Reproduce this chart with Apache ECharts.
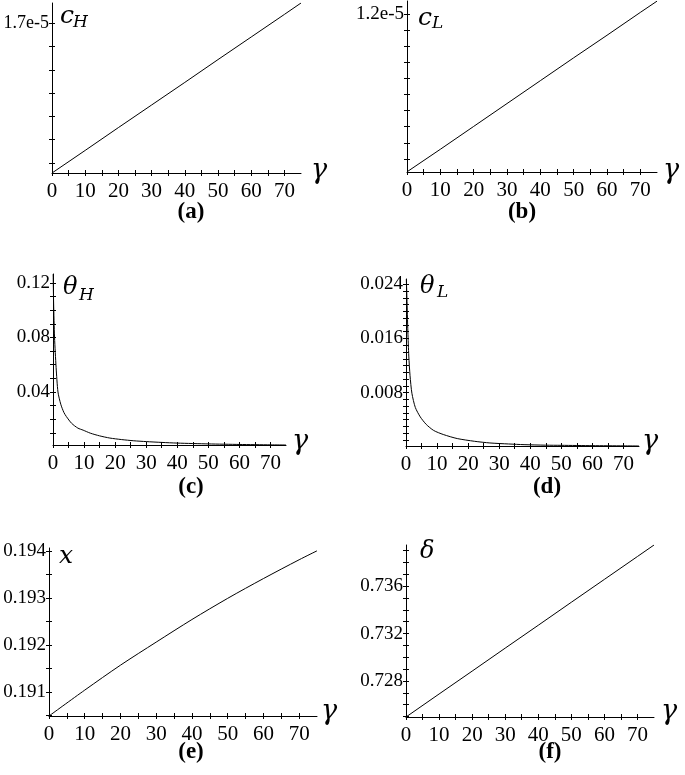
<!DOCTYPE html>
<html>
<head>
<meta charset="utf-8">
<script src="https://cdn.jsdelivr.net/npm/echarts@6/dist/echarts.min.js"></script>
<style>
  html, body { margin: 0; padding: 0; background: #fff; }
  #main { width: 685px; height: 775px; }
</style>
</head>
<body>
<div id="main"></div>
<script>
// values, gamma on the x axis
var gammaLin = [0, 10, 20, 30, 40, 50, 60, 70, 75];
var cH = [1.057e-5, 1.154e-5, 1.252e-5, 1.349e-5, 1.446e-5, 1.544e-5, 1.641e-5, 1.738e-5, 1.787e-5];
var cL = [0.710e-5, 0.780e-5, 0.851e-5, 0.922e-5, 0.993e-5, 1.064e-5, 1.134e-5, 1.205e-5, 1.240e-5];
var xVal = [0.19049, 0.19104, 0.19157, 0.19206, 0.19254, 0.19299, 0.19341, 0.19381, 0.19400];
var delta = [0.72496, 0.72690, 0.72883, 0.73077, 0.73270, 0.73464, 0.73657, 0.73850, 0.73947];

var gammaH = [0.05, 0.2, 0.5, 1, 1.6, 2.5, 3.5, 4.3, 6, 8, 9.7, 12, 15, 18.3, 22, 26, 30, 35, 40, 50, 60, 70, 75];
var thetaH = [0.1266, 0.105, 0.08, 0.058, 0.04, 0.031, 0.025, 0.022, 0.017, 0.0135, 0.012, 0.0098, 0.0078, 0.0062, 0.0051, 0.0042, 0.0036, 0.003, 0.0025, 0.0019, 0.0015, 0.0012, 0.0011];
var gammaL = [0.1, 0.3, 0.6, 0.9, 1.3, 1.9, 3, 4.6, 6.5, 8.9, 12, 16.5, 22, 27, 33, 38, 45, 50, 60, 70, 75];
var thetaL = [0.0248, 0.022, 0.017, 0.0134, 0.0105, 0.0079, 0.0058, 0.0044, 0.0033, 0.0024, 0.0018, 0.0012, 0.0008, 0.00055, 0.0004, 0.0003, 0.00022, 0.0002, 0.00015, 0.00012, 0.0001];

// tick positions and labels
var xTicks = [0, 5, 10, 15, 20, 25, 30, 35, 40, 45, 50, 55, 60, 65, 70];
var xLabels = [0, 10, 20, 30, 40, 50, 60, 70];
var yTicksA = [1.1e-5, 1.2e-5, 1.3e-5, 1.4e-5, 1.5e-5, 1.6e-5, 1.7e-5];
var yLabelsA = [1.7e-5];
var yTicksB = [0.75e-5, 0.8e-5, 0.85e-5, 0.9e-5, 0.95e-5, 1.0e-5, 1.05e-5, 1.1e-5, 1.15e-5, 1.2e-5];
var yLabelsB = [1.2e-5];
var yTicksC = [0.01, 0.02, 0.03, 0.04, 0.05, 0.06, 0.07, 0.08, 0.09, 0.10, 0.11, 0.12];
var yLabelsC = [0.04, 0.08, 0.12];
var yTicksD = [0.001, 0.002, 0.003, 0.004, 0.005, 0.006, 0.007, 0.008, 0.009, 0.010, 0.011, 0.012,
  0.013, 0.014, 0.015, 0.016, 0.017, 0.018, 0.019, 0.020, 0.021, 0.022, 0.023, 0.024];
var yLabelsD = [0.008, 0.016, 0.024];
var yTicksE = [0.1905, 0.191, 0.1915, 0.192, 0.1925, 0.193, 0.1935, 0.194];
var yLabelsE = [0.191, 0.192, 0.193, 0.194];
var yTicksF = [0.725, 0.726, 0.727, 0.728, 0.729, 0.730, 0.731, 0.732, 0.733, 0.734, 0.735, 0.736, 0.737, 0.738, 0.739];
var yLabelsF = [0.728, 0.732, 0.736];

var tickFont = 'Liberation Serif';

var panels = [
  { left: 52, top: 3, width: 249, bottom: 173, ymin: 1.057e-5, ymax: 1.787e-5, gx: gammaLin, gy: cH,
    ticks: yTicksA, labels: yLabelsA, fmt: function (v) { return (v / 1e-5).toFixed(1) + 'e-5'; }, fs: 18, smooth: false },
  { left: 407, top: 1, width: 250, bottom: 172, ymin: 0.7095e-5, ymax: 1.2404e-5, gx: gammaLin, gy: cL,
    ticks: yTicksB, labels: yLabelsB, fmt: function (v) { return (v / 1e-5).toFixed(1) + 'e-5'; }, fs: 19, smooth: false },
  { left: 53, top: 274, width: 233, bottom: 445, ymin: 0.0011, ymax: 0.1266, gx: gammaH, gy: thetaH,
    ticks: yTicksC, labels: yLabelsC, fmt: function (v) { return v.toFixed(2); }, fs: 19, smooth: 0.25 },
  { left: 406, top: 279, width: 233, bottom: 446, ymin: 0.0001, ymax: 0.0248, gx: gammaL, gy: thetaL,
    ticks: yTicksD, labels: yLabelsD, fmt: function (v) { return v.toFixed(3); }, fs: 19, smooth: 0.25 },
  { left: 49, top: 548, width: 268, bottom: 716, ymin: 0.19049, ymax: 0.19406, gx: gammaLin, gy: xVal,
    ticks: yTicksE, labels: yLabelsE, fmt: function (v) { return v.toFixed(3); }, fs: 19, smooth: 0.3 },
  { left: 406, top: 545, width: 248, bottom: 717, ymin: 0.72496, ymax: 0.73947, gx: gammaLin, gy: delta,
    ticks: yTicksF, labels: yLabelsF, fmt: function (v) { return v.toFixed(3); }, fs: 19, smooth: false }
];

var grids = [], xAxes = [], yAxes = [], series = [];

panels.forEach(function (p, i) {
  grids.push({ left: p.left, top: p.top, width: p.width, height: p.bottom - p.top });
  // main axis (line, labels, outer ticks) + a bare one for the inner half of the ticks
  [false, true].forEach(function (inner) {
    xAxes.push({
      gridIndex: i, type: 'value', position: 'bottom', min: 0, max: 75,
      axisLine: { show: !inner, onZero: false, lineStyle: { color: '#000', width: 1 } },
      axisTick: { show: true, inside: inner, length: 3, customValues: xTicks, lineStyle: { color: '#000' } },
      axisLabel: { show: !inner, customValues: xLabels, margin: 8, color: '#000',
        fontFamily: tickFont, fontSize: 21 },
      splitLine: { show: false }
    });
    yAxes.push({
      gridIndex: i, type: 'value', position: 'left', min: p.ymin, max: p.ymax,
      axisLine: { show: !inner, onZero: false, lineStyle: { color: '#000', width: 1 } },
      axisTick: { show: true, inside: inner, length: 3, customValues: p.ticks, lineStyle: { color: '#000' } },
      axisLabel: { show: !inner, customValues: p.labels, formatter: p.fmt, margin: 3, color: '#000',
        fontFamily: tickFont, fontSize: p.fs },
      splitLine: { show: false }
    });
  });
  series.push({
    type: 'line', xAxisIndex: 2 * i, yAxisIndex: 2 * i,
    data: p.gx.map(function (g, k) { return [g, p.gy[k]]; }),
    showSymbol: false, smooth: p.smooth,
    lineStyle: { color: '#000', width: 1 }
  });
});

function txt(x, y, s, size, italic, bold, family, align) {
  return {
    type: 'text', x: x, y: y,
    style: {
      text: s, fill: '#000', fontSize: size,
      fontFamily: family || 'DejaVu Serif',
      fontStyle: italic ? 'italic' : 'normal',
      fontWeight: bold ? 'bold' : 'normal',
      align: align || 'left', verticalAlign: 'middle'
    }
  };
}

var graphics = [
  // axis names
  txt(60, 16, 'c', 25, true), txt(73, 23, 'H', 17, true),
  txt(418, 18, 'c', 25, true), txt(432, 24, 'L', 17, true),
  txt(63, 288, 'θ', 24, true), txt(79, 296, 'H', 17, true),
  txt(420, 287, 'θ', 24, true), txt(437, 293, 'L', 17, true),
  txt(59, 556, 'x', 25, true),
  txt(420, 552, 'δ', 24, true),
  // gamma on each x axis
  txt(311, 171, 'γ', 27, true), txt(663, 171, 'γ', 27, true),
  txt(292, 442, 'γ', 27, true), txt(642, 442, 'γ', 27, true),
  txt(321, 712, 'γ', 27, true), txt(661, 712, 'γ', 27, true),
  // panel captions
  txt(191, 212, '(a)', 23, false, true, 'Liberation Serif', 'center'),
  txt(522, 212, '(b)', 23, false, true, 'Liberation Serif', 'center'),
  txt(191, 487, '(c)', 23, false, true, 'Liberation Serif', 'center'),
  txt(547, 487, '(d)', 23, false, true, 'Liberation Serif', 'center'),
  txt(191, 752, '(e)', 23, false, true, 'Liberation Serif', 'center'),
  txt(550, 752, '(f)', 23, false, true, 'Liberation Serif', 'center')
];

var chart = echarts.init(document.getElementById('main'), null, { renderer: 'canvas' });
chart.setOption({
  animation: false,
  backgroundColor: '#fff',
  grid: grids,
  xAxis: xAxes,
  yAxis: yAxes,
  series: series,
  graphic: graphics
});
</script>
</body>
</html>
